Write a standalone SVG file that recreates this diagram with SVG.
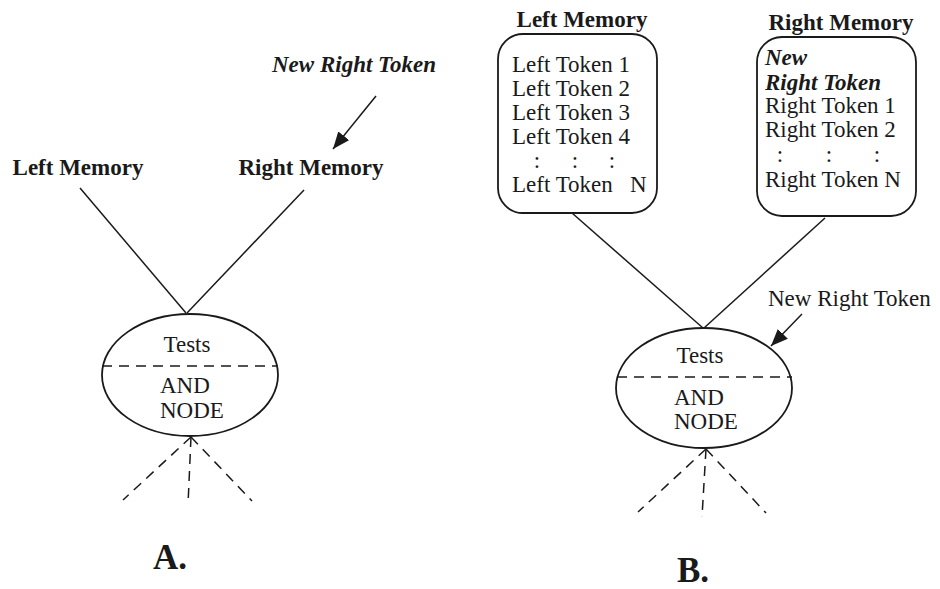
<svg xmlns="http://www.w3.org/2000/svg" width="940" height="589" viewBox="0 0 940 589">
<style>
  .t { font-family: "Liberation Serif", "Times New Roman", serif; font-size: 23px; fill: #1a1a1a; }
  .b { font-weight: bold; }
  .bi { font-weight: bold; font-style: italic; }
  .big { font-family: "Liberation Serif", "Times New Roman", serif; font-size: 35px; font-weight: bold; fill: #1a1a1a; }
  .ln { stroke: #1a1a1a; stroke-width: 1.5; fill: none; }
  .dash { stroke: #1a1a1a; stroke-width: 1.5; fill: none; stroke-dasharray: 10 7; }
  .shape { stroke: #1a1a1a; stroke-width: 1.8; fill: #ffffff; }
</style>
<defs>
  <marker id="arr" markerUnits="userSpaceOnUse" markerWidth="20" markerHeight="16" refX="17" refY="7" orient="auto">
    <path d="M0,0 L17,7 L0,14 Z" fill="#1a1a1a"/>
  </marker>
</defs>
<rect width="940" height="589" fill="#ffffff"/>

<g id="connectors">
  <!-- Panel A -->
  <line class="ln" x1="376" y1="96" x2="333" y2="149" marker-end="url(#arr)"/>
  <line class="ln" x1="80" y1="188" x2="186" y2="313"/>
  <line class="ln" x1="304" y1="190" x2="187" y2="313"/>
  <line class="dash" x1="191" y1="437" x2="123" y2="500"/>
  <line class="dash" x1="191" y1="437" x2="188" y2="505"/>
  <line class="dash" x1="191" y1="437" x2="252" y2="501"/>
  <!-- Panel B -->
  <line class="ln" x1="572" y1="213" x2="703" y2="328"/>
  <line class="ln" x1="825" y1="218" x2="704" y2="328"/>
  <line class="ln" x1="802" y1="314" x2="771" y2="346" marker-end="url(#arr)"/>
  <line class="dash" x1="706" y1="449" x2="638" y2="512"/>
  <line class="dash" x1="706" y1="449" x2="702" y2="517"/>
  <line class="dash" x1="706" y1="449" x2="766" y2="513"/>
</g>

<!-- Panel A nodes -->
<g id="a-new-right-token">
  <text class="t bi" x="272" y="72">New Right Token</text>
</g>
<g id="a-left-memory">
  <text class="t b" x="78" y="175" text-anchor="middle">Left Memory</text>
</g>
<g id="a-right-memory">
  <text class="t b" x="311" y="175" text-anchor="middle">Right Memory</text>
</g>
<g id="a-and-node">
  <ellipse class="shape" cx="190" cy="375" rx="88" ry="61"/>
  <line class="dash" x1="102" y1="366" x2="278" y2="366"/>
  <text class="t" x="187" y="352" text-anchor="middle">Tests</text>
  <text class="t" x="160" y="393">AND</text>
  <text class="t" x="160" y="418">NODE</text>
</g>
<g id="a-label">
  <text class="big" x="170" y="569" text-anchor="middle">A.</text>
</g>

<!-- Panel B nodes -->
<g id="b-left-memory">
  <text class="t b" x="582" y="27" text-anchor="middle">Left Memory</text>
  <rect class="shape" x="498" y="34" width="159" height="179" rx="25" ry="25"/>
  <text class="t" x="512" y="72">Left Token 1</text>
  <text class="t" x="512" y="96">Left Token 2</text>
  <text class="t" x="512" y="120">Left Token 3</text>
  <text class="t" x="512" y="144">Left Token 4</text>
  <text class="t" x="537" y="168" text-anchor="middle">:</text>
  <text class="t" x="575" y="168" text-anchor="middle">:</text>
  <text class="t" x="612" y="168" text-anchor="middle">:</text>
  <text class="t" x="512" y="192">Left Token</text>
  <text class="t" x="630" y="192">N</text>
</g>
<g id="b-right-memory">
  <text class="t b" x="841" y="30" text-anchor="middle">Right Memory</text>
  <rect class="shape" x="757" y="37" width="159" height="179" rx="25" ry="25"/>
  <text class="t bi" x="765" y="65">New</text>
  <text class="t bi" x="765" y="90">Right Token</text>
  <text class="t" x="765" y="113">Right Token 1</text>
  <text class="t" x="765" y="137">Right Token 2</text>
  <text class="t" x="780" y="162" text-anchor="middle">:</text>
  <text class="t" x="829" y="162" text-anchor="middle">:</text>
  <text class="t" x="877" y="162" text-anchor="middle">:</text>
  <text class="t" x="765" y="187">Right Token N</text>
</g>
<g id="b-new-right-token">
  <text class="t" x="768" y="306">New Right Token</text>
</g>
<g id="b-and-node">
  <ellipse class="shape" cx="704" cy="388" rx="88" ry="60"/>
  <line class="dash" x1="617" y1="377" x2="792" y2="377"/>
  <text class="t" x="700" y="363" text-anchor="middle">Tests</text>
  <text class="t" x="674" y="405">AND</text>
  <text class="t" x="674" y="429">NODE</text>
</g>
<g id="b-label">
  <text class="big" x="693" y="582" text-anchor="middle">B.</text>
</g>
</svg>
